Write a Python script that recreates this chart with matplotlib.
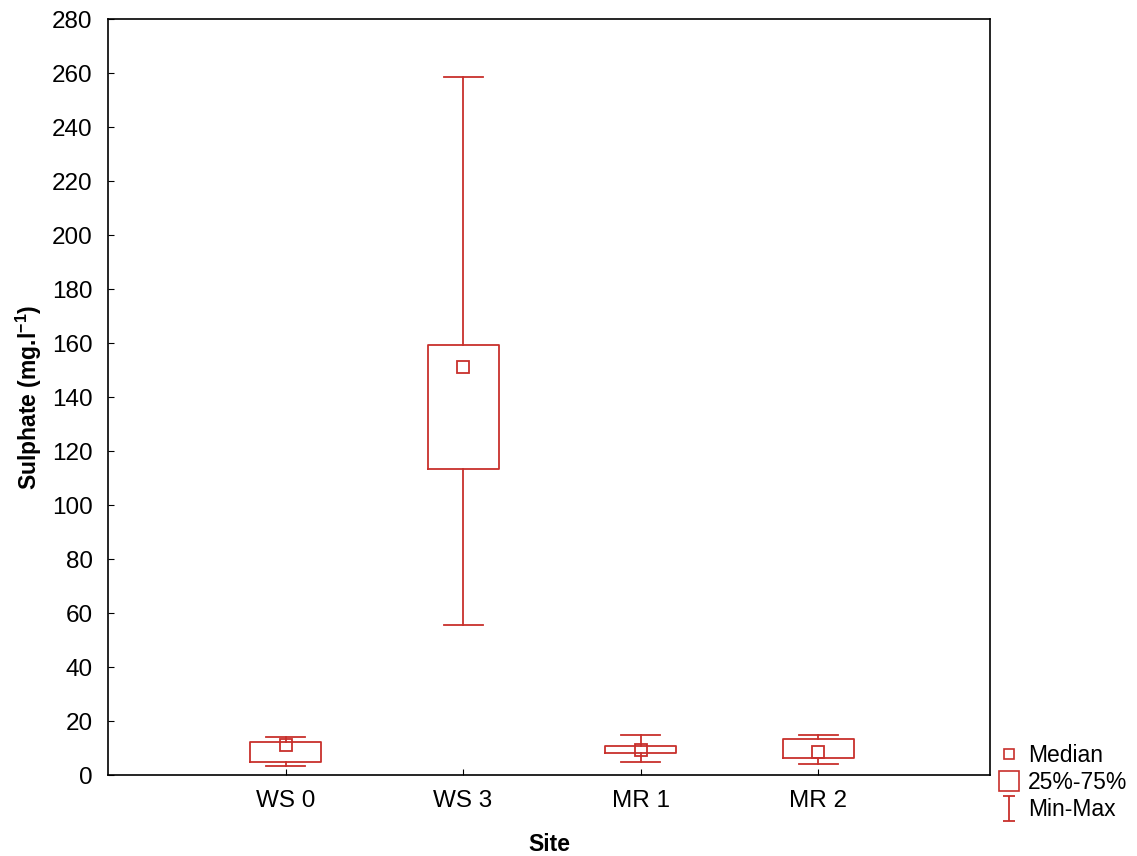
import numpy as np
import matplotlib.pyplot as plt
from matplotlib.lines import Line2D
from matplotlib.path import Path

plt.rcParams['font.family'] = ['Liberation Sans', 'DejaVu Sans']
plt.rcParams['mathtext.fontset'] = 'custom'
plt.rcParams['mathtext.rm'] = 'Liberation Sans'
plt.rcParams['mathtext.bf'] = 'Liberation Sans:bold'

sites = ['WS 0', 'WS 3', 'MR 1', 'MR 2']
medians = [11.1, 151.2, 9.3, 8.4]
q1 = [4.9, 113.3, 8.3, 6.3]
q3 = [12.3, 159.3, 10.9, 13.3]
mins = [3.5, 55.6, 4.7, 4.0]
maxs = [14.0, 258.6, 14.8, 14.8]

col = '#c8302c'

fig = plt.figure(figsize=(11.37, 8.56), dpi=100)
ax = fig.add_axes([0.095, 0.0946, 0.776, 0.8832])

pos = np.arange(1, len(sites) + 1)
stats = []
for i in range(len(sites)):
    stats.append(dict(med=medians[i], q1=q1[i], q3=q3[i],
                      whislo=mins[i], whishi=maxs[i], fliers=[]))

lp = dict(color=col, linewidth=1.3)
ax.bxp(stats, positions=pos, widths=0.4, capwidths=0.22, showfliers=False,
       boxprops=lp, whiskerprops=lp, capprops=lp,
       medianprops=dict(visible=False))
ax.plot(pos, medians, 's', ms=8, mfc='none', mec=col, mew=1.3, linestyle='none')

ax.set_xlim(0.0, 4.97)
ax.set_ylim(0, 280)
ax.set_yticks(np.arange(0, 281, 20))
ax.set_xticks(pos)
ax.set_xticklabels(sites)
ax.tick_params(direction='in', length=4, labelsize=17.5, color='black')
ax.tick_params(axis='y', pad=11)
ax.tick_params(axis='x', pad=11)
for s in ax.spines.values():
    s.set_linewidth(1.2)

ax.set_ylabel(r'Sulphate (mg.l$^{\mathbf{-1}}$)', fontsize=16.5, fontweight='bold', labelpad=6)
ax.set_xlabel('Site', fontsize=16.5, fontweight='bold', labelpad=15)

# legend
ibar = Path([(-0.5, 1), (0.5, 1), (0, 1), (0, -1), (-0.5, -1), (0.5, -1)],
            [Path.MOVETO, Path.LINETO, Path.MOVETO, Path.LINETO, Path.MOVETO, Path.LINETO])
handles = [
    Line2D([], [], marker='s', ms=7, mfc='none', mec=col, mew=1.2, linestyle='none'),
    Line2D([], [], marker='s', ms=15, mfc='none', mec=col, mew=1.2, linestyle='none'),
    Line2D([], [], marker=ibar, ms=18, mfc='none', mec=col, mew=1.3, linestyle='none'),
]
fig.legend(handles, ['Median', '25%-75%', 'Min-Max'], loc='upper left',
           bbox_to_anchor=(0.877, 0.133), frameon=False, fontsize=16.5,
           handlelength=0.8, handletextpad=0.45, labelspacing=0.16, borderpad=0.1,
           borderaxespad=0.0)

fig.savefig('out.png', dpi=100)
